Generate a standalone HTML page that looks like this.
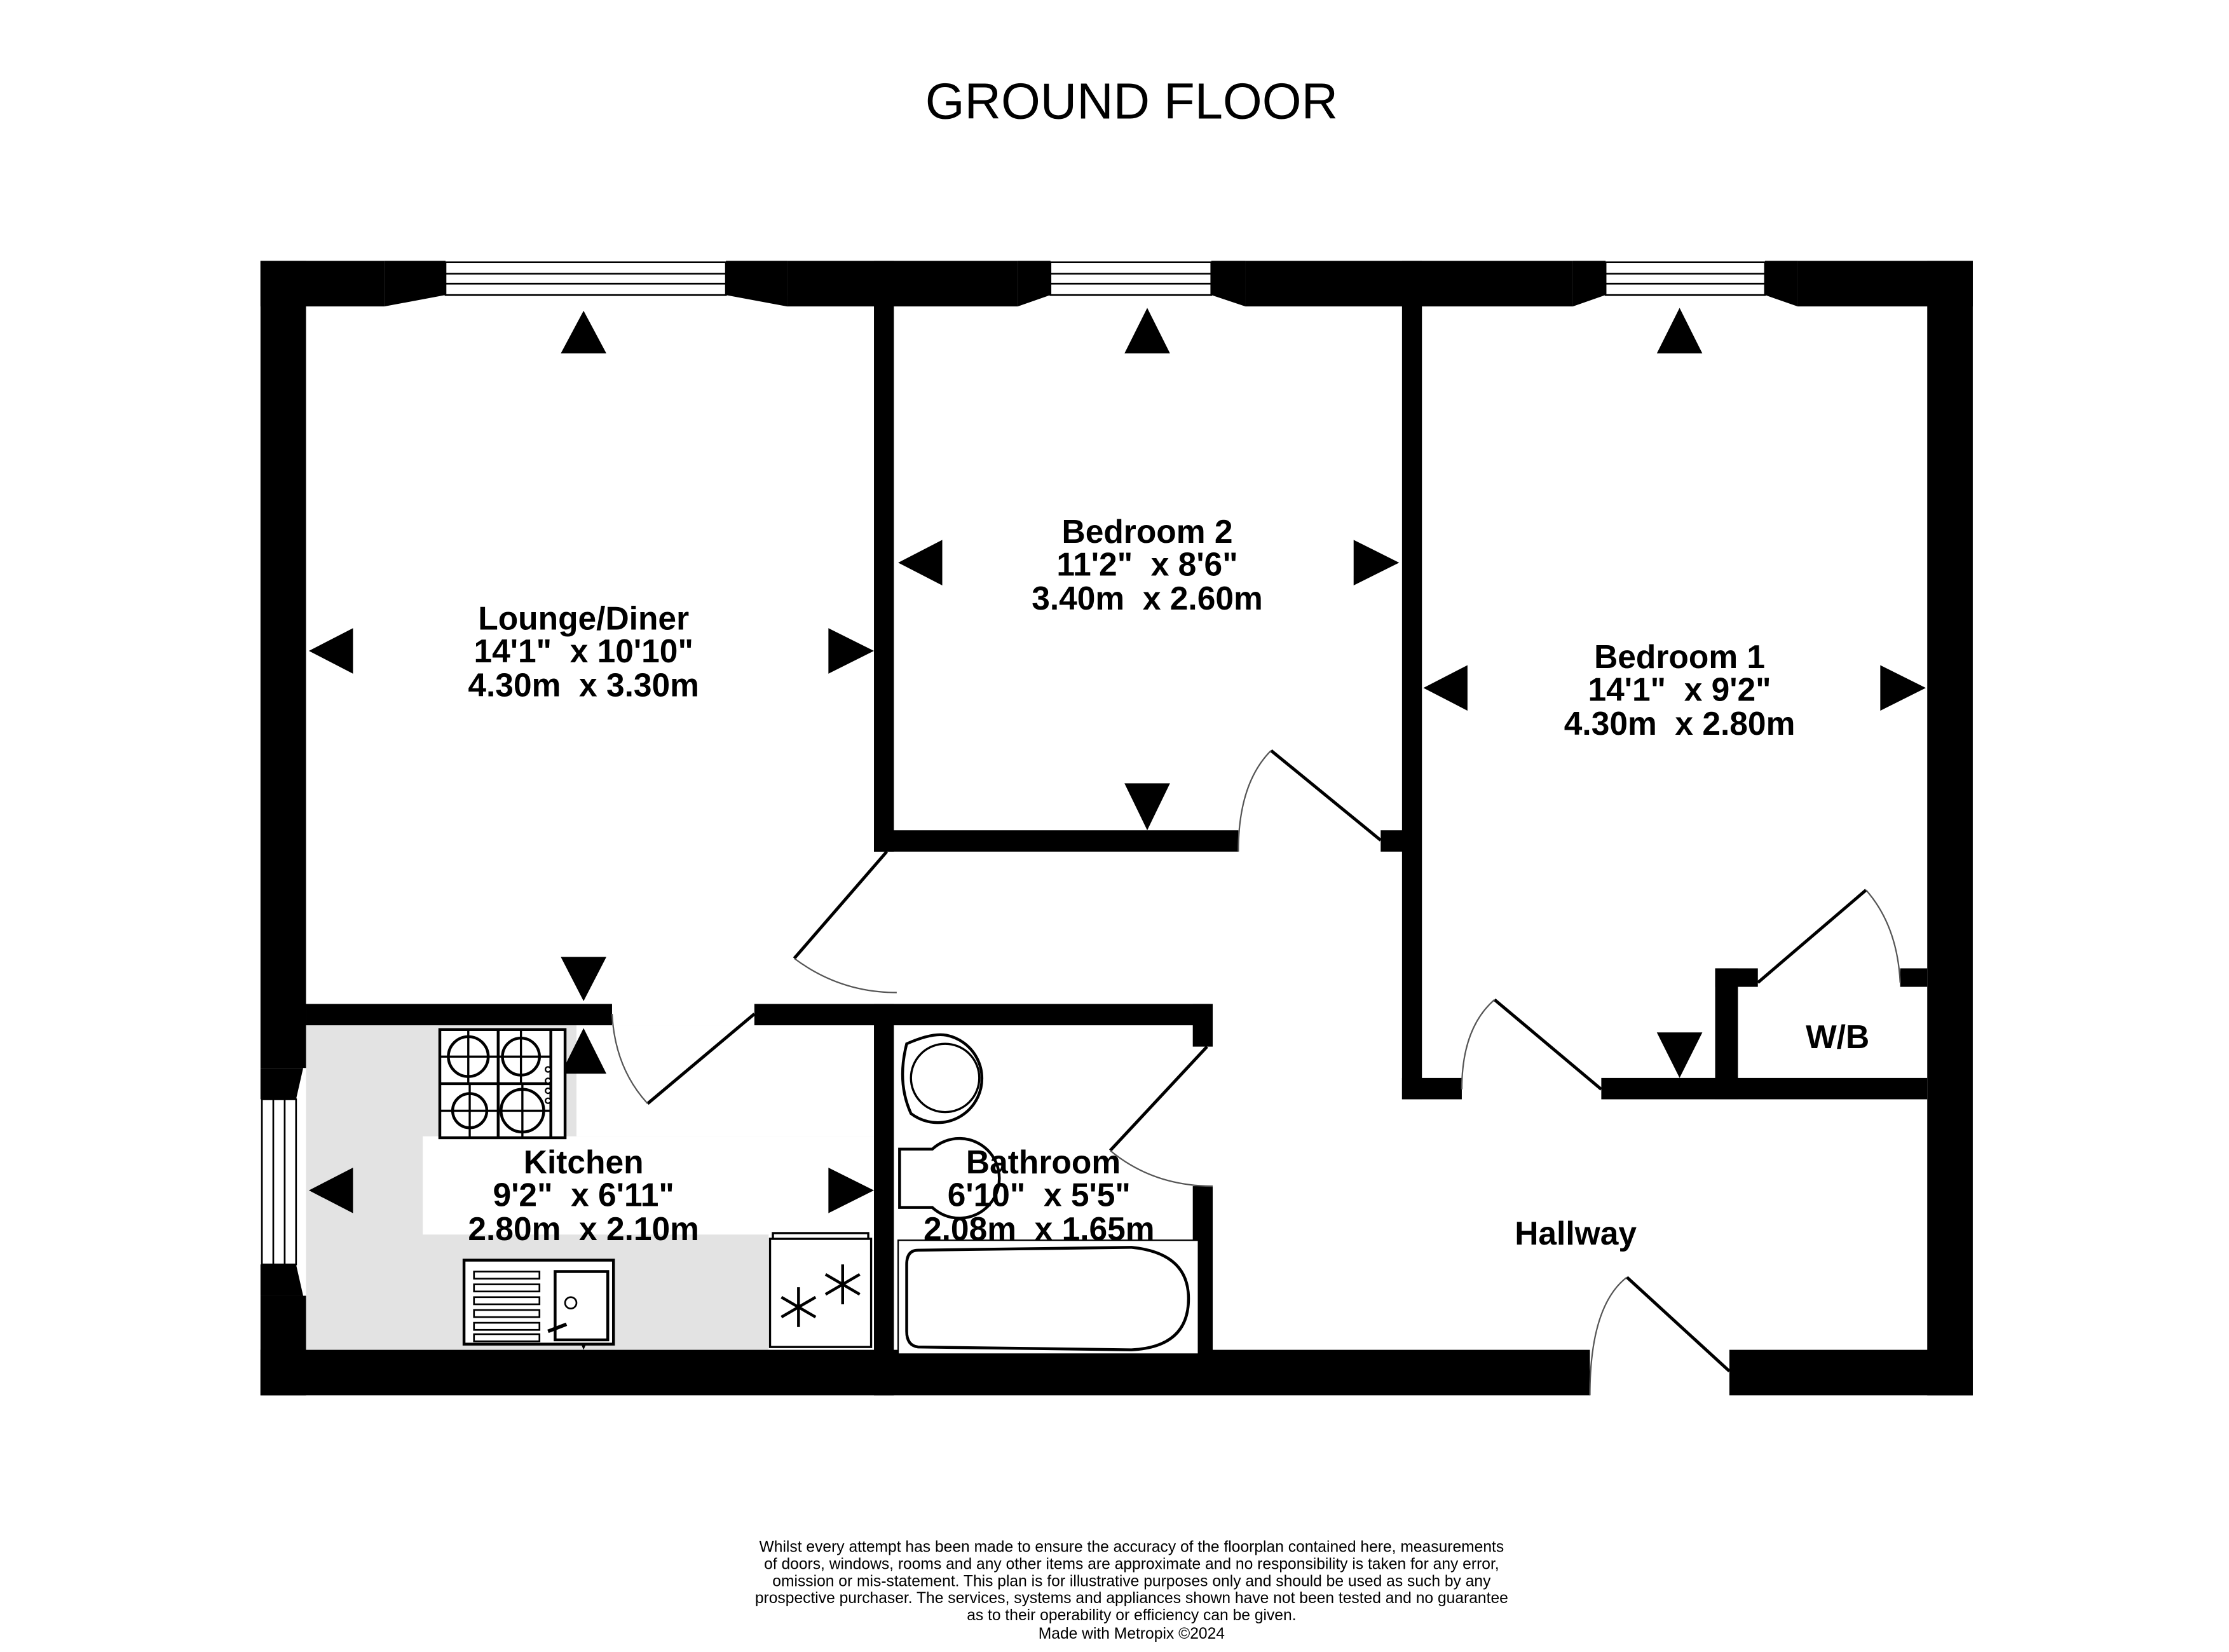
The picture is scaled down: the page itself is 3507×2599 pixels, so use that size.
<!DOCTYPE html>
<html><head><meta charset="utf-8"><style>html,body{margin:0;padding:0;background:#fff}svg{display:block}.pre text{white-space:pre}</style></head>
<body>
<svg width="3507" height="2599" viewBox="0 0 1566 1160" xmlns="http://www.w3.org/2000/svg" font-family="Liberation Sans, sans-serif">
<rect width="1566" height="1160" fill="#fff"/>
<text x="795" y="83" font-size="35.5" text-anchor="middle">GROUND FLOOR</text>
<rect x="215" y="720" width="399" height="228" fill="#e3e3e3"/>
<rect x="405" y="720" width="209" height="78" fill="#fff"/>
<rect x="297" y="798" width="317" height="69" fill="#fff"/>
<rect x="540" y="867" width="74" height="81" fill="#fff"/>
<g fill="#000">
<rect x="183" y="183" width="87" height="32"/>
<polygon points="270,183 313,183 313,207 270,215"/>
<polygon points="510,183 553,183 553,215 510,207"/>
<rect x="553" y="183" width="162" height="32"/>
<polygon points="715,183 738,183 738,207 715,215"/>
<polygon points="851,183 875,183 875,215 851,207"/>
<rect x="875" y="183" width="230" height="32"/>
<polygon points="1105,183 1128,183 1128,207 1105,215"/>
<polygon points="1240,183 1263,183 1263,215 1240,207"/>
<rect x="1263" y="183" width="123" height="32"/>
<rect x="183" y="183" width="32" height="567"/>
<polygon points="183,750 213,750 208,772 183,772"/>
<polygon points="183,888 208,888 213,910 183,910"/>
<rect x="183" y="910" width="32" height="70"/>
<rect x="183" y="948" width="934" height="32"/>
<rect x="1215" y="948" width="171" height="32"/>
<rect x="1354" y="183" width="32" height="797"/>
<rect x="614" y="183" width="14" height="415"/>
<rect x="614" y="583" width="256" height="15"/>
<rect x="985" y="183" width="14" height="589"/>
<rect x="970" y="583" width="20" height="15"/>
<rect x="985" y="757" width="42" height="15"/>
<rect x="1125" y="757" width="229" height="15"/>
<rect x="1205" y="680" width="16" height="92"/>
<rect x="1205" y="680" width="30" height="13"/>
<rect x="1335" y="680" width="19" height="13"/>
<rect x="215" y="705" width="215" height="15"/>
<rect x="530" y="705" width="320" height="15"/>
<rect x="614" y="705" width="14" height="275"/>
<rect x="838" y="705" width="14" height="30"/>
<rect x="838" y="833" width="14" height="117"/>
</g>
<g fill="#fff" stroke="#000" stroke-width="1.2">
<rect x="313" y="184" width="197" height="23"/><line x1="313" y1="192" x2="510" y2="192"/><line x1="313" y1="199" x2="510" y2="199"/>
<rect x="738" y="184" width="113" height="23"/><line x1="738" y1="192" x2="851" y2="192"/><line x1="738" y1="199" x2="851" y2="199"/>
<rect x="1128" y="184" width="112" height="23"/><line x1="1128" y1="192" x2="1240" y2="192"/><line x1="1128" y1="199" x2="1240" y2="199"/>
<rect x="184" y="772" width="24" height="116"/><line x1="192" y1="772" x2="192" y2="888"/><line x1="200" y1="772" x2="200" y2="888"/>
</g>
<g stroke="#000" stroke-width="2.2" fill="none">
<line x1="623" y1="598" x2="558" y2="673"/>
<line x1="530" y1="712" x2="455" y2="775"/>
<line x1="970" y1="590" x2="893" y2="527"/>
<line x1="848" y1="735" x2="780" y2="808"/>
<line x1="1125" y1="765" x2="1050" y2="702"/>
<line x1="1235" y1="690" x2="1311" y2="625"/>
<line x1="1215" y1="963" x2="1143" y2="897"/>
</g>
<g stroke="#555" stroke-width="1" fill="none">
<path d="M558,673 Q590,697 630,697"/>
<path d="M430,712 Q432,750 455,775"/>
<path d="M870,598 Q870,550 893,527"/>
<path d="M780,808 Q810,833 852,833"/>
<path d="M1027,765 Q1027,722 1050,702"/>
<path d="M1311,625 Q1333,650 1335,690"/>
<path d="M1117,980 Q1117,917 1143,897"/>
</g>
<g fill="#000">
<polygon points="410,218 394,248 426,248"/>
<polygon points="217,457 248,441 248,473"/>
<polygon points="614,457 582,441 582,473"/>
<polygon points="410,703 394,672 426,672"/>
<polygon points="410,722 394,754 426,754"/>
<polygon points="410,948 394,912 426,912"/>
<polygon points="217,836 248,820 248,852"/>
<polygon points="614,836 582,820 582,852"/>
<polygon points="806,216 790,248 822,248"/>
<polygon points="631,395 662,379 662,411"/>
<polygon points="983,395 951,379 951,411"/>
<polygon points="806,583 790,550 822,550"/>
<polygon points="1180,216 1164,248 1196,248"/>
<polygon points="1000,483 1031,467 1031,499"/>
<polygon points="1353,483 1321,467 1321,499"/>
<polygon points="1180,757 1164,725 1196,725"/>
</g>
<g stroke="#000" stroke-width="2" fill="#fff">
<rect x="309" y="723" width="88" height="76"/>
<g fill="none">
<circle cx="329" cy="742" r="14"/><circle cx="366" cy="742" r="13"/><circle cx="330" cy="780" r="12"/><circle cx="367" cy="780" r="15"/>
<line x1="309" y1="742" x2="350" y2="742" stroke-width="1.5"/><line x1="329" y1="723" x2="329" y2="761" stroke-width="1.5"/>
<line x1="350" y1="742" x2="387" y2="742" stroke-width="1.5"/><line x1="366" y1="723" x2="366" y2="761" stroke-width="1.5"/>
<line x1="309" y1="780" x2="350" y2="780" stroke-width="1.5"/><line x1="330" y1="761" x2="330" y2="799" stroke-width="1.5"/>
<line x1="350" y1="780" x2="387" y2="780" stroke-width="1.5"/><line x1="367" y1="761" x2="367" y2="799" stroke-width="1.5"/>
</g>
<line x1="350" y1="723" x2="350" y2="799"/><line x1="309" y1="761" x2="387" y2="761"/><line x1="387" y1="723" x2="387" y2="799"/>
<circle cx="385" cy="751" r="1.8" stroke-width="1"/><circle cx="385" cy="759" r="1.8" stroke-width="1"/><circle cx="385" cy="766" r="1.8" stroke-width="1"/><circle cx="385" cy="773" r="1.8" stroke-width="1"/>
</g>
<g stroke="#000" stroke-width="2" fill="#fff">
<rect x="326" y="885" width="105" height="59"/>
<rect x="390" y="893" width="37" height="48"/>
<g stroke-width="1.2"><rect x="333" y="893" width="46" height="5"/><rect x="333" y="902" width="46" height="5"/><rect x="333" y="911" width="46" height="5"/><rect x="333" y="920" width="46" height="5"/><rect x="333" y="929" width="46" height="5"/><rect x="333" y="937" width="46" height="5"/></g>
<circle cx="401" cy="915" r="4" stroke-width="1.2"/>
<path d="M385,935 L398,930" stroke-width="2.5"/>
</g>
<g stroke="#000" stroke-width="1.5" fill="#fff">
<rect x="541" y="870" width="71" height="76"/><rect x="543" y="866" width="67" height="4"/>
</g>
<g stroke="#000" stroke-width="2" fill="none">
<g transform="translate(561,918)"><line x1="0" y1="-14" x2="0" y2="14"/><line x1="-12" y1="-7" x2="12" y2="7"/><line x1="-12" y1="7" x2="12" y2="-7"/></g>
<g transform="translate(592,902)"><line x1="0" y1="-14" x2="0" y2="14"/><line x1="-12" y1="-7" x2="12" y2="7"/><line x1="-12" y1="7" x2="12" y2="-7"/></g>
</g>
<g stroke="#000" stroke-width="2" fill="#fff">
<path d="M637,733 Q655,725 665,727 A31,31 0 1 1 640,782 Q630,760 637,733 Z"/>
<circle cx="664" cy="757" r="24" stroke-width="1.5"/>
<path d="M632,807 L655,807 A28,28 0 1 1 655,848 L632,848 Z"/>
<rect x="631" y="871" width="211" height="80" stroke-width="1"/>
<path d="M645,878 L795,876 Q835,880 835,912 Q835,946 795,948 L645,946 Q637,945 637,935 L637,888 Q637,878 645,878 Z"/>
</g>
<g class="pre" font-weight="bold" font-size="23" text-anchor="middle">
<text x="410" y="442">Lounge/Diner</text><text x="410" y="465">14'1"  x 10'10"</text><text x="410" y="489">4.30m  x 3.30m</text>
<text x="806" y="381">Bedroom 2</text><text x="806" y="404">11'2"  x 8'6"</text><text x="806" y="428">3.40m  x 2.60m</text>
<text x="1180" y="469">Bedroom 1</text><text x="1180" y="492">14'1"  x 9'2"</text><text x="1180" y="516">4.30m  x 2.80m</text>
<text x="410" y="824">Kitchen</text><text x="410" y="847">9'2"  x 6'11"</text><text x="410" y="871">2.80m  x 2.10m</text>
<text x="733" y="824">Bathroom</text><text x="730" y="847">6'10"  x 5'5"</text><text x="730" y="871">2.08m  x 1.65m</text>
<text x="1107" y="874">Hallway</text>
<text x="1291" y="736">W/B</text>
</g>
<g font-size="11" text-anchor="middle">
<text x="795" y="1090">Whilst every attempt has been made to ensure the accuracy of the floorplan contained here, measurements</text>
<text x="795" y="1102">of doors, windows, rooms and any other items are approximate and no responsibility is taken for any error,</text>
<text x="795" y="1114">omission or mis-statement. This plan is for illustrative purposes only and should be used as such by any</text>
<text x="795" y="1126">prospective purchaser. The services, systems and appliances shown have not been tested and no guarantee</text>
<text x="795" y="1138">as to their operability or efficiency can be given.</text>
<text x="795" y="1151">Made with Metropix ©2024</text>
</g>
</svg>
</body></html>
